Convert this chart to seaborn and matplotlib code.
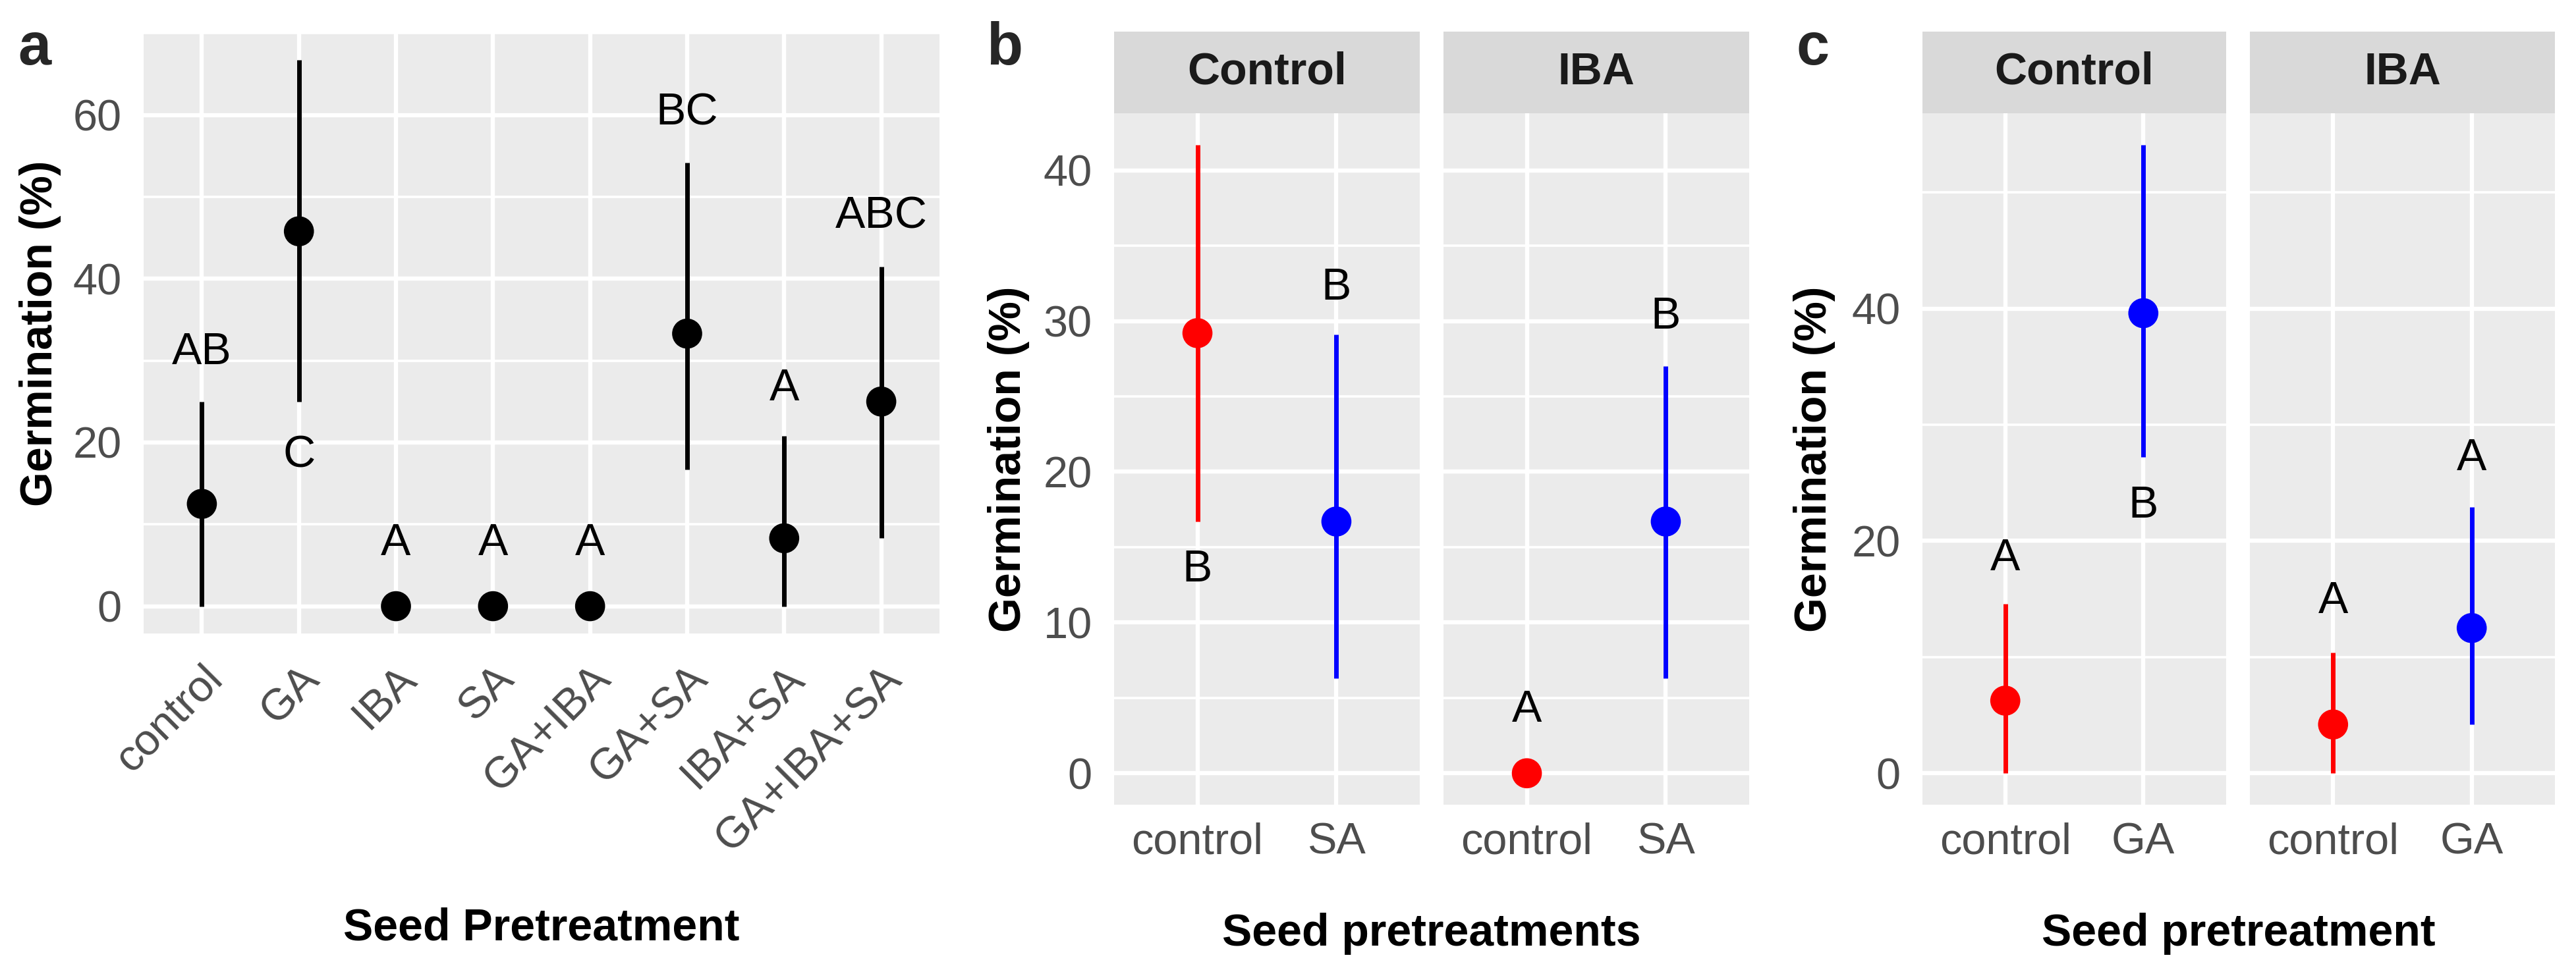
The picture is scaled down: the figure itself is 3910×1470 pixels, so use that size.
import matplotlib
matplotlib.use('Agg')
import matplotlib.pyplot as plt
from matplotlib.ticker import MultipleLocator
import seaborn as sns

# panel a: all pretreatments
a_treat = ['control', 'GA', 'IBA', 'SA', 'GA+IBA', 'GA+SA', 'IBA+SA', 'GA+IBA+SA']
a_mean = [12.5, 45.8, 0, 0, 0, 33.3, 8.3, 25.0]
a_low = [0, 25.0, 0, 0, 0, 16.7, 0, 8.3]
a_high = [25.0, 66.7, 0, 0, 0, 54.2, 20.8, 41.5]
a_letters = ['AB', 'C', 'A', 'A', 'A', 'BC', 'A', 'ABC']
a_letter_y = [31.0, 18.4, 7.7, 7.7, 7.7, 60.3, 26.6, 47.6]

# panel b: SA within Control / IBA
b_facets = ['Control', 'IBA']
b_treat = ['control', 'SA']
b_mean = [[29.2, 16.7], [0, 16.7]]
b_low = [[16.7, 6.3], [0, 6.3]]
b_high = [[41.7, 29.1], [0, 27.0]]
b_letters = [['B', 'B'], ['A', 'B']]
b_letter_y = [[13.5, 32.2], [4.2, 30.3]]

# panel c: GA within Control / IBA
c_facets = ['Control', 'IBA']
c_treat = ['control', 'GA']
c_mean = [[6.25, 39.6], [4.2, 12.5]]
c_low = [[0, 27.2], [0, 4.2]]
c_high = [[14.6, 54.1], [10.4, 22.9]]
c_letters = [['A', 'B'], ['A', 'A']]
c_letter_y = [[18.5, 23.0], [14.8, 27.1]]

sns.set_style('darkgrid', {'axes.facecolor': '#EBEBEB', 'grid.color': 'white'})
plt.rcParams['font.family'] = ['Liberation Sans', 'DejaVu Sans']

W, H = 3910, 1470
fig = plt.figure(figsize=(W / 100, H / 100), dpi=100)


def box(x0, y0, x1, y1):
    # pixel box (from top-left) -> figure fraction rect
    return [x0 / W, 1 - y1 / H, (x1 - x0) / W, (y1 - y0) / H]


def ggrange(lows, highs):
    lo = min(min(lows), 0)
    hi = max(highs)
    d = (hi - lo) * 0.05
    return lo - d, hi + d


def panel(ax, treat, mean, low, high, letters, letter_y, colors, ylim, major, minor, show_y=True):
    ax.vlines(treat, low, high, colors=colors, lw=5, zorder=2)
    sns.scatterplot(x=treat, y=mean, hue=treat, palette=dict(zip(treat, colors)),
                    s=1080, linewidth=0, legend=False, ax=ax, zorder=3)
    for i, (lab, yy) in enumerate(zip(letters, letter_y)):
        ax.text(i, yy, lab, ha='center', va='center', fontsize=49, color='black', zorder=4)
    ax.set_xlim(-0.6, len(treat) - 0.4)
    ax.set_ylim(*ylim)
    ax.yaxis.set_major_locator(MultipleLocator(major))
    ax.yaxis.set_minor_locator(MultipleLocator(minor))
    ax.set_axisbelow(True)
    ax.grid(which='major', color='white', lw=4.6)
    ax.grid(which='minor', axis='y', color='white', lw=2.6)
    ax.tick_params(which='minor', length=0)
    ax.tick_params(which='major', length=13, width=4, color='#333333',
                   labelsize=48, labelcolor='#4D4D4D', pad=11)
    ax.tick_params(axis='x', pad=6)
    ax.set_xlabel('')
    ax.set_ylabel('')
    for s in ax.spines.values():
        s.set_visible(False)
    if not show_y:
        ax.tick_params(axis='y', length=0, labelleft=False)


def strip(rect, label):
    sax = fig.add_axes(rect)
    sax.set_facecolor('#D9D9D9')
    sax.set_xticks([])
    sax.set_yticks([])
    sax.grid(False)
    for s in sax.spines.values():
        s.set_visible(False)
    sax.text(0.5, 0.5, label, ha='center', va='center', fontsize=49,
             fontweight='bold', color='#1A1A1A', transform=sax.transAxes)


# ---- panel a
ax_a = fig.add_axes(box(218, 50, 1426, 962))
panel(ax_a, a_treat, a_mean, a_low, a_high, a_letters, a_letter_y,
      ['black'] * len(a_treat), ggrange(a_low, a_high), 20, 10)
ax_a.set_xticks(range(len(a_treat)))
ax_a.set_xticklabels(a_treat, rotation=45, ha='right', rotation_mode='anchor')
ax_a.tick_params(axis='x', pad=14)

# ---- panels b and c (faceted)
fac_cols = ['red', 'blue']
for facets, treat, mean, low, high, lets, lety, xs in [
        (b_facets, b_treat, b_mean, b_low, b_high, b_letters, b_letter_y, [(1691, 2155), (2191, 2655)]),
        (c_facets, c_treat, c_mean, c_low, c_high, c_letters, c_letter_y, [(2918, 3379), (3415, 3878)])]:
    lows = [v for row in low for v in row]
    highs = [v for row in high for v in row]
    yl = ggrange(lows, highs)
    maj = 10 if max(highs) < 45 else 20
    for k, fac in enumerate(facets):
        x0, x1 = xs[k]
        ax = fig.add_axes(box(x0, 172, x1, 1222))
        panel(ax, treat, mean[k], low[k], high[k], lets[k], lety[k], fac_cols,
              yl, maj, maj / 2, show_y=(k == 0))
        strip(box(x0, 48, x1, 172), fac)

# axis titles
title_kw = dict(fontsize=49, fontweight='bold', color='black', ha='center', va='center')
fig.text(61 / W, 1 - 506 / H, 'Germination (%)', rotation=90, **title_kw)
fig.text(1531 / W, 1 - 697 / H, 'Germination (%)', rotation=90, **title_kw)
fig.text(2754 / W, 1 - 697 / H, 'Germination (%)', rotation=90, **title_kw)
fig.text(822 / W, 1 - 1410 / H, 'Seed Pretreatment', **title_kw)
fig.text(2173 / W, 1 - 1418 / H, 'Seed pretreatments', **title_kw)
fig.text(3398 / W, 1 - 1418 / H, 'Seed pretreatment', **title_kw)

# panel tags
for x, tag in [(53, 'a'), (1525, 'b'), (2752, 'c')]:
    fig.text(x / W, 1 - 98 / H, tag, fontsize=65, fontweight='bold', ha='center', va='baseline')

fig.savefig('out.png', dpi=100)
